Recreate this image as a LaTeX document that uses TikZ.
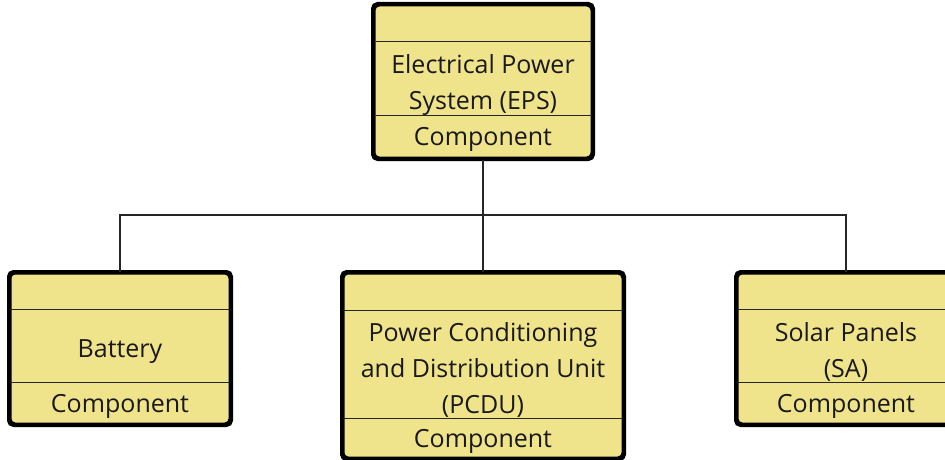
\documentclass[tikz,border=0pt]{standalone}
\usepackage{fontspec}
\setmainfont{Open Sans}
\definecolor{boxfill}{RGB}{239,227,139}
\definecolor{txt}{RGB}{25,25,25}
\begin{document}
\begin{tikzpicture}[x=1pt,y=-1pt,
  box/.style={draw=black, line width=3pt, fill=boxfill, rounded corners=5pt, inner sep=0pt},
  sep/.style={draw=black!85, line width=1.3pt},
  conn/.style={draw=black!85, line width=1.3pt},
  label/.style={font=\fontsize{25}{36}\selectfont, text=txt, align=center, inner sep=0pt}]
\clip (0,0) rectangle (945,460);
% boxes
\node[box, minimum width=218pt, minimum height=153pt] (eps) at (483,81.5) {};
\node[box, minimum width=220pt, minimum height=151pt] (bat) at (120,348.5) {};
\node[box, minimum width=280pt, minimum height=185pt] (pcdu) at (483,365.5) {};
\node[box, minimum width=218pt, minimum height=151pt] (sa) at (846,348.5) {};
% separators
\draw[sep] ([yshift=-38pt]eps.north west) -- ([yshift=-38pt]eps.north east);
\draw[sep] ([yshift=-112pt]eps.north west) -- ([yshift=-112pt]eps.north east);
\draw[sep] ([yshift=-38pt]bat.north west) -- ([yshift=-38pt]bat.north east);
\draw[sep] ([yshift=-111pt]bat.north west) -- ([yshift=-111pt]bat.north east);
\draw[sep] ([yshift=-39pt]pcdu.north west) -- ([yshift=-39pt]pcdu.north east);
\draw[sep] ([yshift=-147pt]pcdu.north west) -- ([yshift=-147pt]pcdu.north east);
\draw[sep] ([yshift=-38pt]sa.north west) -- ([yshift=-38pt]sa.north east);
\draw[sep] ([yshift=-111pt]sa.north west) -- ([yshift=-111pt]sa.north east);
% redraw outer borders on top
\foreach \n in {eps,bat,pcdu,sa}{
  \draw[line width=3pt, rounded corners=5pt] (\n.north west) rectangle (\n.south east);
}
% texts
\node[label] (epsname) at (483,85) {Electrical Power\\System (EPS)};
\node[label] (epsst) at (483,139) {Component};
\node[label] (batname) at (120,352) {Battery};
\node[label] (batst) at (120,406) {Component};
\node[label] (pcduname) at (483,370) {Power Conditioning\\and Distribution Unit\\(PCDU)};
\node[label] (pcdust) at (483,441) {Component};
\node[label] (saname) at (846,352) {Solar Panels\\(SA)};
\node[label] (sast) at (846,406) {Component};
% connectors
\coordinate (j) at (483,215);
\draw[conn] (eps.south) -- (j);
\draw[conn] (j) -- (pcdu.north);
\draw[conn] (bat.north) |- (j) -| (sa.north);
\end{tikzpicture}
\end{document}
